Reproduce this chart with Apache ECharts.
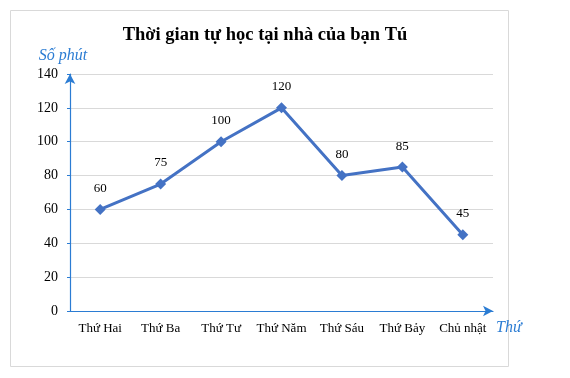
<!DOCTYPE html>
<html>
<head>
<meta charset="utf-8">
<script src="https://cdn.jsdelivr.net/npm/echarts@6/dist/echarts.min.js"></script>
<style>
html,body{margin:0;padding:0;background:#fff;}
#chart{width:570px;height:378px;}
</style>
</head>
<body>
<div id="chart"></div>
<script>
var days = ['Thứ Hai', 'Thứ Ba', 'Thứ Tư', 'Thứ Năm', 'Thứ Sáu', 'Thứ Bảy', 'Chủ nhật'];
var minutes = [60, 75, 100, 120, 80, 85, 45];
var yTicks = [0, 20, 40, 60, 80, 100, 120, 140];

var chart = echarts.init(document.getElementById('chart'));
var serif = '"Liberation Serif", "Times New Roman", serif';
var axisBlue = '#2B7CD3';

option = {
    animation: false,
    title: {
        text: 'Thời gian tự học tại nhà của bạn Tú',
        left: 260,
        textAlign: 'center',
        top: 21,
        textStyle: { fontFamily: serif, fontSize: 18.5, fontWeight: 'bold', color: '#000' }
    },
    graphic: [{
        type: 'rect',
        shape: { x: 10.5, y: 10.5, width: 498, height: 356 },
        style: { fill: 'none', stroke: '#d9d9d9', lineWidth: 1 },
        silent: true
    }],
    grid: { left: 70, right: 77, top: 74, bottom: 67 },
    xAxis: {
        type: 'category',
        data: days,
        boundaryGap: true,
        name: 'Thứ',
        nameGap: 3,
        nameLocation: 'end',
        nameTextStyle: { fontFamily: serif, fontStyle: 'italic', fontSize: 16, color: axisBlue, verticalAlign: 'top', padding: [9, 0, 0, 0] },
        axisLine: { lineStyle: { color: axisBlue, width: 1.2 }, symbol: ['none', 'arrow'], symbolSize: [8, 10], symbolOffset: [0, 0] },
        axisTick: { alignWithLabel: true, length: 3, lineStyle: { color: axisBlue } },
        axisLabel: { interval: 0, hideOverlap: false, fontFamily: serif, fontSize: 13, color: '#000', margin: 11 },
        splitLine: { show: false }
    },
    yAxis: {
        type: 'value',
        min: 0,
        max: 140,
        interval: 20,
        name: 'Số phút',
        nameLocation: 'end',
        nameGap: 10,
        nameTextStyle: { fontFamily: serif, fontStyle: 'italic', fontSize: 16, color: axisBlue, align: 'center', padding: [0, 14, 0, 0] },
        axisLine: { show: true, lineStyle: { color: axisBlue, width: 1.2 }, symbol: ['none', 'arrow'], symbolSize: [8, 10] },
        axisTick: { show: true, length: 3, lineStyle: { color: axisBlue } },
        axisLabel: {
            fontFamily: serif, fontSize: 14, color: '#000', margin: 12,
            formatter: function (v) { return yTicks.indexOf(v) >= 0 ? String(v) : ''; }
        },
        splitLine: { lineStyle: { color: '#d9d9d9', width: 1 } }
    },
    series: [{
        type: 'line',
        data: minutes,
        symbol: 'diamond',
        symbolSize: 11,
        lineStyle: { color: '#4472C4', width: 3 },
        itemStyle: { color: '#4472C4' },
        label: {
            show: true,
            position: 'top',
            distance: 9,
            fontFamily: serif,
            fontSize: 13,
            color: '#000'
        }
    }]
};
chart.setOption(option);
</script>
</body>
</html>
